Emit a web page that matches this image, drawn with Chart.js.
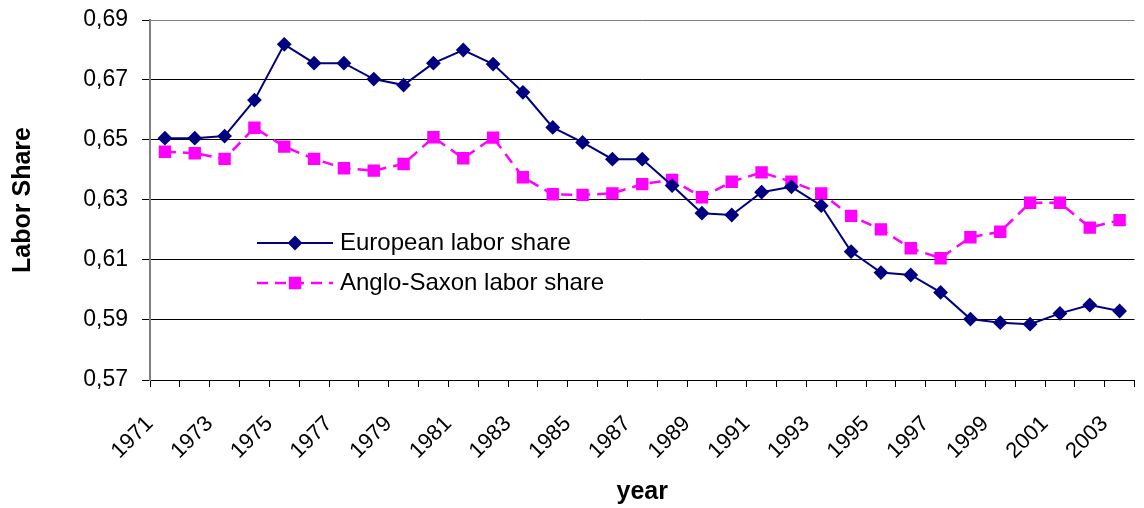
<!DOCTYPE html>
<html>
<head>
<meta charset="utf-8">
<script src="https://cdn.jsdelivr.net/npm/chart.js@4"></script>
<style>
  html, body { margin: 0; padding: 0; background: #fff; }
  #wrap { width: 1144px; height: 508px; }
</style>
</head>
<body>
<div id="wrap"><canvas id="lineChart" width="1144" height="508"></canvas></div>
<script>
let years = ["1971", "1972", "1973", "1974", "1975", "1976", "1977", "1978", "1979", "1980",
    "1981", "1982", "1983", "1984", "1985", "1986", "1987", "1988", "1989", "1990",
    "1991", "1992", "1993", "1994", "1995", "1996", "1997", "1998", "1999", "2000",
    "2001", "2002", "2003"];

let european = [0.6506, 0.6506, 0.6513, 0.6633, 0.6819, 0.6756, 0.6756, 0.6703, 0.6683, 0.6756,
    0.6800, 0.6753, 0.6659, 0.6542, 0.6492, 0.6436, 0.6436, 0.6348, 0.6256, 0.6250,
    0.6326, 0.6344, 0.6281, 0.6128, 0.6058, 0.6050, 0.5992, 0.5903, 0.5891, 0.5886,
    0.5922, 0.5950, 0.5930];

let angloSaxon = [0.6461, 0.6456, 0.6437, 0.6541, 0.6478, 0.6437, 0.6406, 0.6398, 0.6420, 0.6509,
    0.6439, 0.6508, 0.6376, 0.6319, 0.6317, 0.6322, 0.6353, 0.6367, 0.6309, 0.6361,
    0.6392, 0.6361, 0.6322, 0.6247, 0.6202, 0.6139, 0.6106, 0.6176, 0.6194, 0.6291,
    0.6291, 0.6208, 0.6233];

let yMin = 0.57, yMax = 0.69, yStep = 0.02;

const FONT = "Arial, 'Liberation Sans', sans-serif";

// legend sits inside the plot, like the original
const insideLegend = {
    id: 'insideLegend',
    afterDraw(chart) {
        const ctx = chart.ctx;
        const rows = [243, 283];
        chart.data.datasets.forEach((ds, i) => {
            let y = rows[i];
            ctx.save();
            ctx.strokeStyle = ds.borderColor;
            ctx.lineWidth = ds.borderWidth;
            ctx.setLineDash(ds.borderDash || []);
            ctx.beginPath();
            ctx.moveTo(257, y);
            ctx.lineTo(333, y);
            ctx.stroke();
            ctx.setLineDash([]);
            Chart.helpers.drawPoint(ctx, {
                pointStyle: ds.pointStyle,
                radius: ds.pointRadius,
                borderWidth: 1
            }, 295, y);
            ctx.fillStyle = ds.pointBackgroundColor;
            ctx.fill();
            ctx.fillStyle = '#000';
            ctx.font = "24px " + FONT;
            ctx.textBaseline = 'middle';
            ctx.fillText(ds.label, 340, y);
            ctx.restore();
        });
    }
};

let ctxL = document.getElementById("lineChart").getContext('2d');

let myLineChart = new Chart(ctxL, {
    type: 'line',
    data: {
        labels: years,
        datasets: [{
            label: "European labor share",
            data: european,
            borderColor: '#000080',
            backgroundColor: '#000080',
            pointBackgroundColor: '#000080',
            pointBorderColor: '#000080',
            pointStyle: 'rectRot',
            pointRadius: 6,
            borderWidth: 2,
            tension: 0
        },
        {
            label: "Anglo-Saxon labor share",
            data: angloSaxon,
            borderColor: '#FF00FF',
            backgroundColor: '#FF00FF',
            pointBackgroundColor: '#FF00FF',
            pointBorderColor: '#FF00FF',
            pointStyle: 'rect',
            pointRadius: 7,
            borderWidth: 2.5,
            borderDash: [11, 7],
            tension: 0
        }]
    },
    options: {
        responsive: false,
        animation: false,
        layout: { padding: { top: 20, right: 2, left: 0, bottom: 0 } },
        plugins: {
            legend: { display: false },
            tooltip: { enabled: false }
        },
        scales: {
            x: {
                offset: true,
                grid: {
                    offset: true,
                    drawOnChartArea: false,
                    drawTicks: true,
                    tickLength: 7,
                    tickColor: '#000'
                },
                border: { color: '#000', width: 1 },
                ticks: {
                    autoSkip: false,
                    maxRotation: 45,
                    minRotation: 45,
                    labelOffset: -15,
                    padding: 24,
                    color: '#000',
                    font: { family: FONT, size: 22 },
                    callback: function (value, index) {
                        return index % 2 === 0 ? this.getLabelForValue(value) : '';
                    }
                },
                title: {
                    display: true,
                    text: 'year',
                    color: '#000',
                    font: { family: FONT, size: 25, weight: 'bold' },
                    padding: { top: 0, bottom: 1 }
                },
                afterFit: function (scale) {
                    scale.height = 128;
                    scale.paddingLeft = 0;
                    scale.paddingRight = 0;
                }
            },
            y: {
                min: yMin,
                max: yMax,
                grid: {
                    color: (c) => (c.tick && Math.abs(c.tick.value - yMax) < 1e-6) ? '#808080' : '#000',
                    lineWidth: 1,
                    tickLength: 8,
                    tickColor: '#000'
                },
                border: { color: '#808080', width: 2 },
                ticks: {
                    stepSize: yStep,
                    padding: 14,
                    color: '#000',
                    font: { family: FONT, size: 23 },
                    callback: (v) => v.toFixed(2).replace('.', ',')
                },
                title: {
                    display: true,
                    text: 'Labor Share',
                    color: '#000',
                    font: { family: FONT, size: 25, weight: 'bold' },
                    padding: { top: 8, bottom: 0 }
                },
                afterFit: function (scale) {
                    scale.width = 150;
                    scale.paddingTop = 0;
                    scale.paddingBottom = 0;
                }
            }
        }
    },
    plugins: [insideLegend]
});
</script>
</body>
</html>
